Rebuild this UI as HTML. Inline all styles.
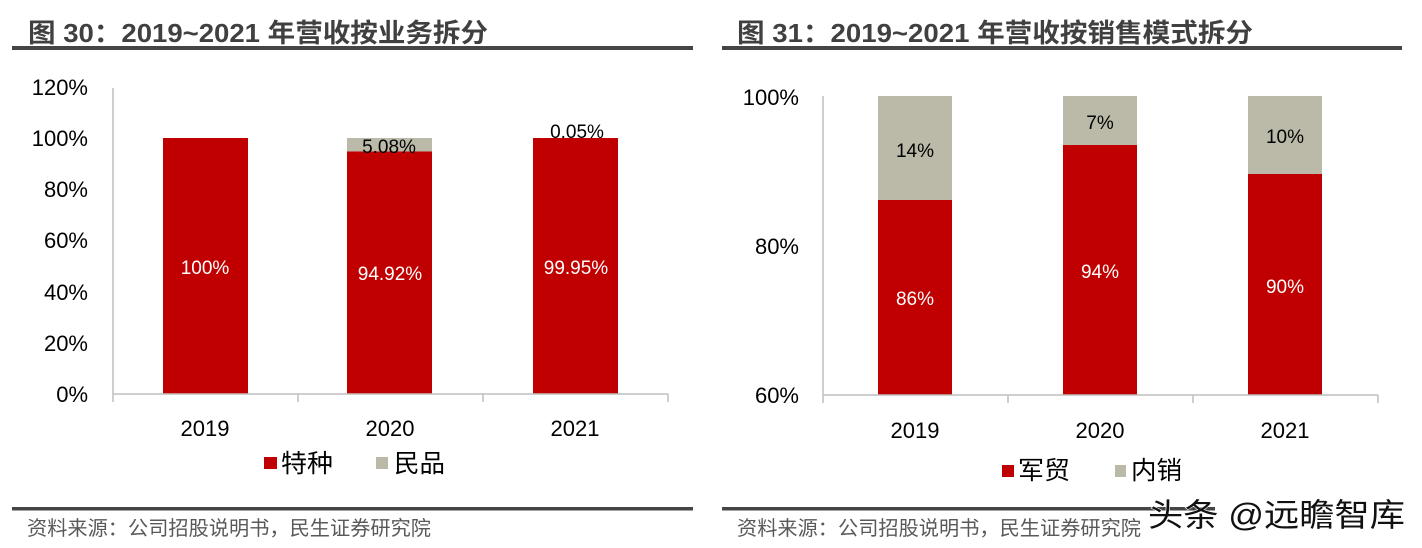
<!DOCTYPE html>
<html>
<head>
<meta charset="utf-8">
<style>
html,body{margin:0;padding:0;background:#fff;}
svg{display:block;}
text{font-family:"Liberation Sans","Noto Sans CJK SC",sans-serif;}
.cjk{font-family:"Liberation Sans","Noto Sans CJK SC",sans-serif;}
</style>
</head>
<body>
<svg width="1422" height="548" viewBox="0 0 1422 548" xmlns="http://www.w3.org/2000/svg">
<rect width="1422" height="548" fill="#fff"/>

<!-- Titles -->
<text x="28" y="42" font-size="26" font-weight="bold" fill="#404040" textLength="460" lengthAdjust="spacingAndGlyphs">图 30：2019~2021 年营收按业务拆分</text>
<rect x="12" y="46" width="681" height="4" fill="#454545"/>
<text x="737" y="42" font-size="26" font-weight="bold" fill="#404040" textLength="516" lengthAdjust="spacingAndGlyphs">图 31：2019~2021 年营收按销售模式拆分</text>
<rect x="722" y="46" width="680" height="4" fill="#454545"/>

<!-- LEFT CHART -->
<g font-size="22" fill="#000" text-anchor="end">
<text x="88" y="95">120%</text>
<text x="88" y="146">100%</text>
<text x="88" y="197">80%</text>
<text x="88" y="248">60%</text>
<text x="88" y="300">40%</text>
<text x="88" y="351">20%</text>
<text x="88" y="402">0%</text>
</g>
<line x1="113" y1="88" x2="113" y2="402" stroke="#BFBFBF" stroke-width="1.5"/>
<!-- bars -->
<rect x="163" y="138" width="85" height="256" fill="#C00000"/>
<rect x="347" y="138" width="85" height="13.5" fill="#BBB9A7"/>
<rect x="347" y="151.5" width="85" height="242.5" fill="#C00000"/>
<rect x="533" y="138" width="85" height="256" fill="#C00000"/>
<line x1="113" y1="394" x2="668" y2="394" stroke="#BFBFBF" stroke-width="1.5"/>
<g stroke="#BFBFBF" stroke-width="1.5">
<line x1="298" y1="394" x2="298" y2="402"/>
<line x1="483" y1="394" x2="483" y2="402"/>
<line x1="668" y1="394" x2="668" y2="402"/>
</g>
<g font-size="19" text-anchor="middle">
<text x="205" y="274" fill="#fff">100%</text>
<text x="390" y="280" fill="#fff">94.92%</text>
<text x="576" y="274" fill="#fff">99.95%</text>
<text x="389" y="153" fill="#000">5.08%</text>
<text x="577" y="138" fill="#000">0.05%</text>
</g>
<g font-size="22" text-anchor="middle" fill="#000">
<text x="205" y="436">2019</text>
<text x="390" y="436">2020</text>
<text x="575" y="436">2021</text>
</g>
<rect x="264" y="457" width="13" height="12" fill="#C00000"/>
<text x="281" y="472" font-size="25" fill="#000" textLength="52" lengthAdjust="spacingAndGlyphs">特种</text>
<rect x="376" y="457" width="12" height="12" fill="#BBB9A7"/>
<text x="394" y="472" font-size="25" fill="#000" textLength="51" lengthAdjust="spacingAndGlyphs">民品</text>

<rect x="12" y="507" width="681" height="3.5" fill="#454545"/>
<text x="27" y="535" font-size="20" fill="#595959" textLength="404" lengthAdjust="spacingAndGlyphs">资料来源：公司招股说明书，民生证券研究院</text>

<!-- RIGHT CHART -->
<g font-size="22" fill="#000" text-anchor="end">
<text x="799" y="105">100%</text>
<text x="799" y="254">80%</text>
<text x="799" y="403">60%</text>
</g>
<line x1="823" y1="96" x2="823" y2="403" stroke="#BFBFBF" stroke-width="1.5"/>
<rect x="878" y="96" width="74" height="104" fill="#BBB9A7"/>
<rect x="878" y="200" width="74" height="195" fill="#C00000"/>
<rect x="1063" y="96" width="74" height="49" fill="#BBB9A7"/>
<rect x="1063" y="145" width="74" height="250" fill="#C00000"/>
<rect x="1248" y="96" width="74" height="78" fill="#BBB9A7"/>
<rect x="1248" y="174" width="74" height="221" fill="#C00000"/>
<line x1="823" y1="395" x2="1378" y2="395" stroke="#BFBFBF" stroke-width="1.5"/>
<g stroke="#BFBFBF" stroke-width="1.5">
<line x1="1008" y1="395" x2="1008" y2="403"/>
<line x1="1193" y1="395" x2="1193" y2="403"/>
<line x1="1378" y1="395" x2="1378" y2="403"/>
</g>
<g font-size="19" text-anchor="middle">
<text x="915" y="157" fill="#000">14%</text>
<text x="915" y="305" fill="#fff">86%</text>
<text x="1100" y="129" fill="#000">7%</text>
<text x="1100" y="278" fill="#fff">94%</text>
<text x="1285" y="143" fill="#000">10%</text>
<text x="1285" y="293" fill="#fff">90%</text>
</g>
<g font-size="22" text-anchor="middle" fill="#000">
<text x="915" y="438">2019</text>
<text x="1100" y="438">2020</text>
<text x="1285" y="438">2021</text>
</g>
<rect x="1002" y="465" width="12" height="12" fill="#C00000"/>
<text x="1018" y="479" font-size="25" fill="#000" textLength="52" lengthAdjust="spacingAndGlyphs">军贸</text>
<rect x="1115" y="465" width="11" height="12" fill="#BBB9A7"/>
<text x="1131" y="479" font-size="25" fill="#000" textLength="51" lengthAdjust="spacingAndGlyphs">内销</text>

<rect x="722" y="507" width="493" height="3.5" fill="#454545"/>
<text x="737" y="535" font-size="20" fill="#595959" textLength="404" lengthAdjust="spacingAndGlyphs">资料来源：公司招股说明书，民生证券研究院</text>

<!-- watermark -->
<text x="1148" y="526" font-size="32" fill="#111" stroke="#fff" stroke-width="1.2" paint-order="stroke" textLength="257" lengthAdjust="spacingAndGlyphs">头条 @远瞻智库</text>
</svg>
</body>
</html>
